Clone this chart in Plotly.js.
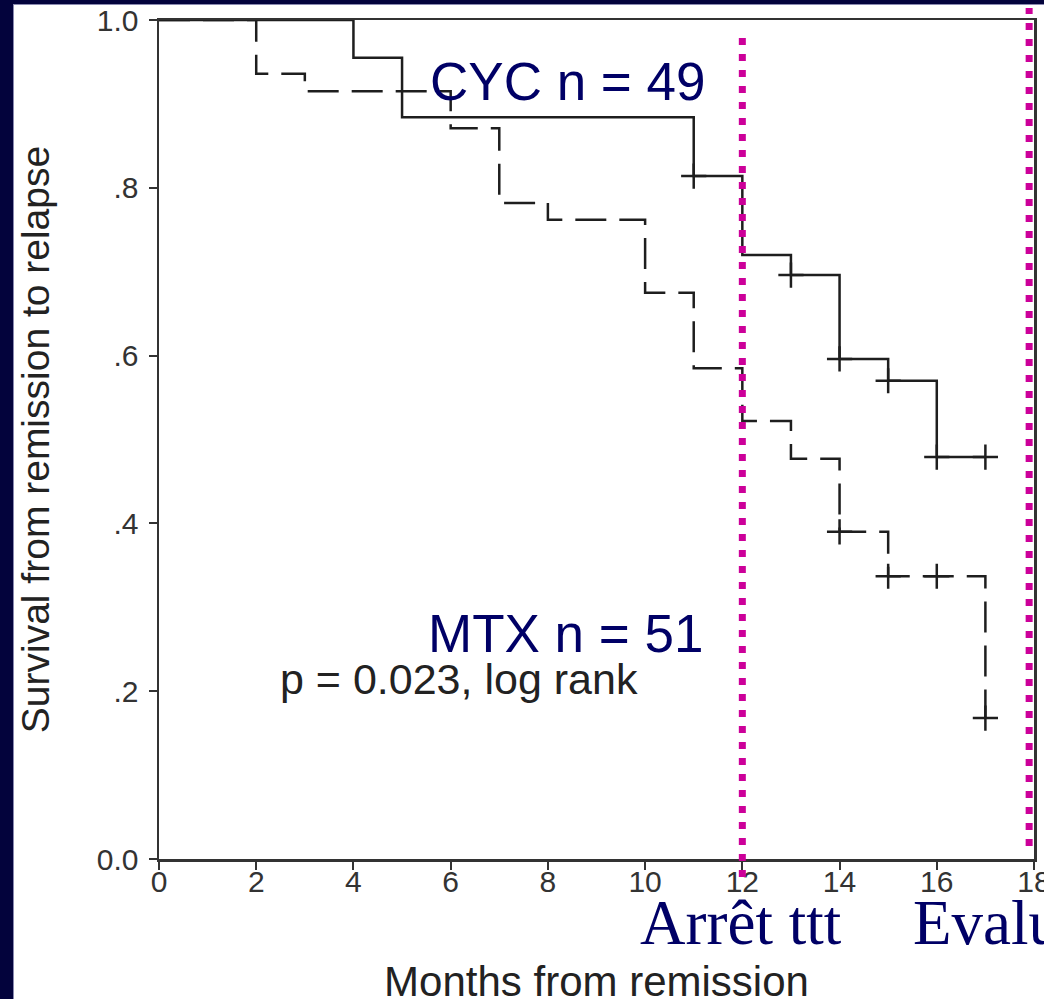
<!DOCTYPE html>
<html>
<head>
<meta charset="utf-8">
<script src="https://cdn.plot.ly/plotly-3.0.1.min.js"></script>
<style>
  html, body { margin: 0; padding: 0; background: #03033c; width: 1044px; height: 999px; overflow: hidden; }
  #chart { position: absolute; left: 13px; top: 4px; width: 1031px; height: 1012px; background: #fff; border-left: 1px solid #8a8ab0; border-top: 1px solid #8a8ab0; }
</style>
</head>
<body>
<div id="chart"></div>
<script>
// ---- data ----
const cycMonths   = [0, 4, 5, 11, 12, 13, 14, 15, 16, 17];
const cycSurvival = [1.0, 0.955, 0.884, 0.814, 0.720, 0.696, 0.596, 0.570, 0.479, 0.479];
const cycCensorMonths   = [11, 13, 14, 15, 16, 17];
const cycCensorSurvival = [0.814, 0.696, 0.596, 0.570, 0.479, 0.479];

const mtxMonths   = [0, 2, 3, 6, 7, 8, 10, 11, 12, 13, 14, 15, 16, 17];
const mtxSurvival = [1.0, 0.936, 0.915, 0.871, 0.782, 0.762, 0.675, 0.585, 0.522, 0.477, 0.390, 0.337, 0.337, 0.168];
const mtxCensorMonths   = [14, 15, 16, 17];
const mtxCensorSurvival = [0.390, 0.337, 0.337, 0.168];

const xTickVals = [0, 2, 4, 6, 8, 10, 12, 14, 16, 18];
const yTickVals = [0, 0.2, 0.4, 0.6, 0.8, 1.0];
const yTickText = ['0.0', '.2', '.4', '.6', '.8', '1.0'];

const markerMonths = [12, 17.9];            // magenta dotted reference lines
const markerLabels = ['Arrêt ttt', 'Evaluation'];

// ---- geometry helpers (page pixels -> paper) ----
const DW = 1031, DH = 1012;
const L = 145, T = 15, W = 875, H = 839;
const px = p => (p - 14 - L) / W;
const py = p => (858 - p) / H;

const lineColor = '#1e1e1e';
const navy = '#000066';
const magenta = '#cc0099';
const sans = 'Arial, Liberation Sans, sans-serif';

const traces = [
  { x: cycMonths, y: cycSurvival, mode: 'lines', line: { shape: 'hv', color: lineColor, width: 2.5 }, hoverinfo: 'skip', showlegend: false },
  { x: mtxMonths, y: mtxSurvival, mode: 'lines', line: { shape: 'hv', color: lineColor, width: 2.5, dash: '31px,13px' }, hoverinfo: 'skip', showlegend: false },
  { x: cycCensorMonths, y: cycCensorSurvival, mode: 'markers', marker: { symbol: 'cross-thin', size: 18, line: { color: lineColor, width: 2.5 } }, hoverinfo: 'skip', showlegend: false },
  { x: mtxCensorMonths, y: mtxCensorSurvival, mode: 'markers', marker: { symbol: 'cross-thin', size: 18, line: { color: lineColor, width: 2.5 } }, hoverinfo: 'skip', showlegend: false }
];

const axisFont = { family: sans, size: 30, color: '#333' };

const layout = {
  width: DW, height: DH,
  margin: { l: L, r: DW - L - W, t: T, b: DH - T - H },
  paper_bgcolor: '#ffffff', plot_bgcolor: '#ffffff',
  showlegend: false,
  xaxis: {
    range: [0, 18], tickvals: xTickVals, ticks: 'outside', ticklen: 8, tickwidth: 2, tickcolor: '#333',
    showline: true, mirror: true, linewidth: 2.5, linecolor: '#333', showgrid: false, zeroline: false,
    tickfont: axisFont, ticklabeloverflow: 'allow', ticklabelstandoff: -14,
    title: { text: 'Months from remission', font: { family: sans, size: 42, color: '#222' }, standoff: 70 },
    automargin: false
  },
  yaxis: {
    range: [0, 1], tickvals: yTickVals, ticktext: yTickText, ticks: 'outside', ticklen: 8, tickwidth: 2, tickcolor: '#333',
    showline: true, mirror: true, linewidth: 2.5, linecolor: '#333', showgrid: false, zeroline: false,
    tickfont: axisFont, ticklabeloverflow: 'allow', ticklabelstandoff: 4,
    title: { text: 'Survival from remission to relapse', font: { family: sans, size: 39, color: '#222' }, standoff: 37 },
    automargin: false
  },
  shapes: [
    { type: 'line', xref: 'x', yref: 'paper', x0: markerMonths[0], x1: markerMonths[0], y0: py(876), y1: py(37), line: { color: magenta, width: 7, dash: '7px,9px' } },
    { type: 'line', xref: 'x', yref: 'paper', x0: markerMonths[1], x1: markerMonths[1], y0: py(845), y1: py(7), line: { color: magenta, width: 7, dash: '7px,9px' } }
  ],
  annotations: [
    { xref: 'paper', yref: 'paper', x: px(428), y: py(80), xanchor: 'left', yanchor: 'middle', showarrow: false,
      text: 'CYC n = 49', font: { family: sans, size: 53, color: navy } },
    { xref: 'paper', yref: 'paper', x: px(426), y: py(632), xanchor: 'left', yanchor: 'middle', showarrow: false,
      text: 'MTX n = 51', font: { family: sans, size: 53, color: navy } },
    { xref: 'paper', yref: 'paper', x: px(278), y: py(678), xanchor: 'left', yanchor: 'middle', showarrow: false,
      text: 'p = 0.023, log rank', font: { family: sans, size: 43, color: '#222' } },
    { xref: 'paper', yref: 'paper', x: px(638), y: py(922), xanchor: 'left', yanchor: 'middle', showarrow: false,
      text: markerLabels[0], font: { family: 'Liberation Serif, Times New Roman, serif', size: 63, color: navy } },
    { xref: 'paper', yref: 'paper', x: px(911), y: py(922), xanchor: 'left', yanchor: 'middle', showarrow: false,
      text: markerLabels[1], font: { family: 'Liberation Serif, Times New Roman, serif', size: 63, color: navy } }
  ]
};

Plotly.newPlot('chart', traces, layout, { displayModeBar: false, staticPlot: true });
</script>
</body>
</html>
